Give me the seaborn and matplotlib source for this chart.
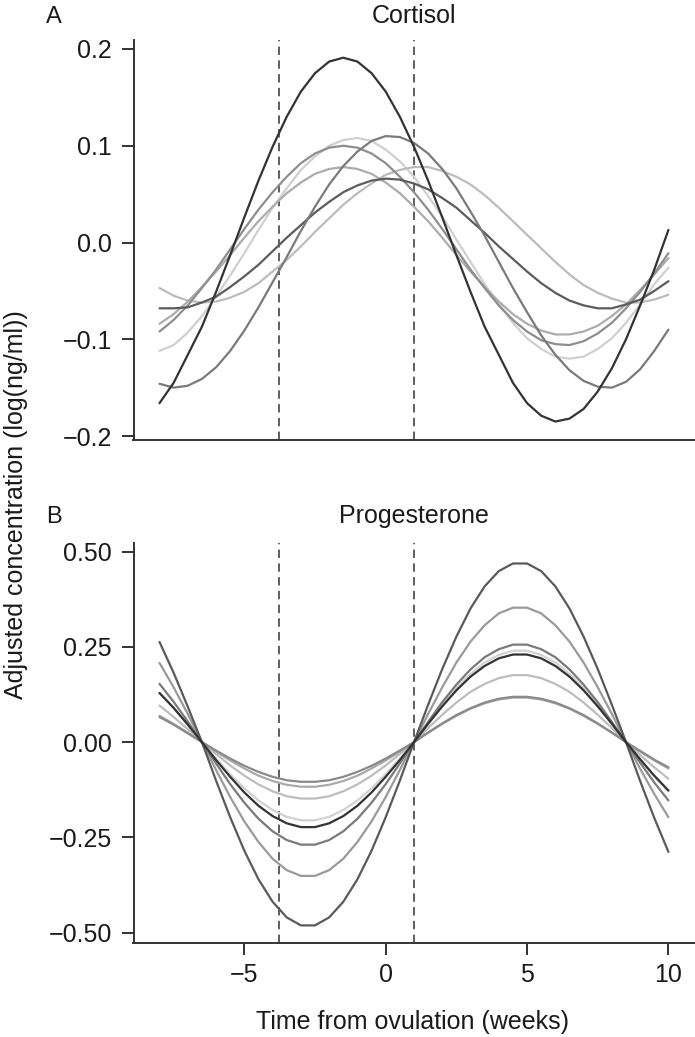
import numpy as np
import pandas as pd
import matplotlib
matplotlib.use("Agg")
import matplotlib.pyplot as plt
import seaborn as sns

sns.set_style("ticks")
plt.rcParams['font.family'] = ['Liberation Sans', 'DejaVu Sans']

# ---------------- data ----------------
weeks = [-8, -7.5, -7, -6.5, -6, -5.5, -5, -4.5, -4, -3.5, -3, -2.5, -2, -1.5, -1, -0.5,
         0, 0.5, 1, 1.5, 2, 2.5, 3, 3.5, 4, 4.5, 5, 5.5, 6, 6.5, 7, 7.5, 8, 8.5, 9, 9.5, 10]

# Cortisol curves (log(ng/ml))
cort_c1 = [-0.166, -0.145, -0.116, -0.087, -0.051, -0.013, 0.026, 0.064, 0.099, 0.130,
           0.156, 0.175, 0.187, 0.191, 0.187, 0.175, 0.156, 0.130, 0.099, 0.064,
           0.026, -0.013, -0.051, -0.087, -0.116, -0.145, -0.166, -0.179, -0.185, -0.182,
           -0.172, -0.154, -0.130, -0.100, -0.065, -0.028, 0.013]
cort_c2 = [-0.146, -0.150, -0.148, -0.141, -0.129, -0.112, -0.091, -0.067, -0.041, -0.015,
           0.012, 0.037, 0.060, 0.079, 0.094, 0.105, 0.110, 0.109, 0.103, 0.092,
           0.076, 0.056, 0.032, 0.007, -0.020, -0.047, -0.072, -0.096, -0.116, -0.132,
           -0.143, -0.149, -0.150, -0.144, -0.131, -0.112, -0.090]
cort_c3 = [-0.068, -0.068, -0.067, -0.062, -0.056, -0.046, -0.035, -0.023, -0.009, 0.005,
           0.018, 0.031, 0.042, 0.052, 0.059, 0.064, 0.066, 0.065, 0.061, 0.055,
           0.046, 0.036, 0.023, 0.010, -0.004, -0.017, -0.030, -0.042, -0.052, -0.060,
           -0.065, -0.068, -0.068, -0.064, -0.059, -0.050, -0.040]
cort_c4 = [-0.047, -0.055, -0.060, -0.062, -0.061, -0.057, -0.051, -0.042, -0.030, -0.018,
           -0.004, 0.011, 0.025, 0.039, 0.051, 0.061, 0.070, 0.075, 0.078, 0.078,
           0.074, 0.068, 0.060, 0.049, 0.036, 0.022, 0.008, -0.006, -0.020, -0.033,
           -0.044, -0.052, -0.058, -0.062, -0.062, -0.059, -0.054]
cort_c5 = [-0.112, -0.106, -0.093, -0.076, -0.056, -0.034, -0.011, 0.013, 0.036, 0.056,
           0.075, 0.089, 0.100, 0.106, 0.108, 0.105, 0.096, 0.084, 0.068, 0.048,
           0.027, 0.003, -0.020, -0.043, -0.064, -0.083, -0.099, -0.110, -0.118, -0.120,
           -0.118, -0.110, -0.099, -0.083, -0.064, -0.043, -0.026]
cort_c6 = [-0.092, -0.080, -0.065, -0.047, -0.028, -0.007, 0.014, 0.034, 0.052, 0.068,
           0.082, 0.092, 0.098, 0.100, 0.098, 0.092, 0.082, 0.068, 0.052, 0.034,
           0.014, -0.007, -0.028, -0.047, -0.065, -0.080, -0.092, -0.101, -0.105, -0.106,
           -0.102, -0.094, -0.083, -0.068, -0.051, -0.032, -0.011]
cort_c7 = [-0.084, -0.074, -0.061, -0.046, -0.030, -0.013, 0.005, 0.022, 0.037, 0.051,
           0.062, 0.071, 0.076, 0.078, 0.076, 0.071, 0.062, 0.051, 0.037, 0.022,
           0.005, -0.013, -0.030, -0.046, -0.061, -0.074, -0.084, -0.091, -0.095, -0.095,
           -0.092, -0.086, -0.076, -0.064, -0.049, -0.033, -0.016]

# Progesterone curves (log(ng/ml))
prog_p1 = [0.263, 0.182, 0.093, 0.000, -0.101, -0.197, -0.285, -0.360, -0.419, -0.460,
           -0.481, -0.481, -0.460, -0.419, -0.360, -0.285, -0.197, -0.101, 0.000, 0.098,
           0.192, 0.277, 0.351, 0.409, 0.449, 0.469, 0.469, 0.449, 0.409, 0.351,
           0.277, 0.192, 0.098, 0.000, -0.102, -0.199, -0.288]
prog_p2 = [0.208, 0.144, 0.074, 0.000, -0.073, -0.144, -0.208, -0.262, -0.306, -0.336,
           -0.351, -0.351, -0.336, -0.306, -0.262, -0.208, -0.144, -0.073, 0.000, 0.074,
           0.144, 0.209, 0.264, 0.307, 0.338, 0.353, 0.353, 0.338, 0.307, 0.264,
           0.209, 0.144, 0.074, 0.000, -0.070, -0.136, -0.197]
prog_p3 = [0.153, 0.106, 0.054, 0.000, -0.056, -0.110, -0.159, -0.201, -0.234, -0.257,
           -0.269, -0.269, -0.257, -0.234, -0.201, -0.159, -0.110, -0.056, 0.000, 0.053,
           0.105, 0.151, 0.191, 0.223, 0.244, 0.256, 0.256, 0.244, 0.223, 0.191,
           0.151, 0.105, 0.053, 0.000, -0.054, -0.106, -0.153]
prog_p4 = [0.129, 0.090, 0.046, 0.000, -0.047, -0.091, -0.132, -0.167, -0.194, -0.213,
           -0.223, -0.223, -0.213, -0.194, -0.167, -0.132, -0.091, -0.047, 0.000, 0.048,
           0.094, 0.136, 0.172, 0.200, 0.220, 0.230, 0.230, 0.220, 0.200, 0.172,
           0.136, 0.094, 0.048, 0.000, -0.045, -0.088, -0.127]
prog_p5 = [0.129, 0.090, 0.046, 0.000, -0.043, -0.084, -0.121, -0.153, -0.178, -0.196,
           -0.205, -0.205, -0.196, -0.178, -0.153, -0.121, -0.084, -0.043, 0.000, 0.050,
           0.098, 0.142, 0.179, 0.209, 0.229, 0.240, 0.240, 0.229, 0.209, 0.179,
           0.142, 0.098, 0.050, 0.000, -0.046, -0.090, -0.129]
prog_p6 = [0.096, 0.066, 0.034, 0.000, -0.031, -0.061, -0.088, -0.111, -0.129, -0.142,
           -0.148, -0.148, -0.142, -0.129, -0.111, -0.088, -0.061, -0.031, 0.000, 0.037,
           0.072, 0.104, 0.132, 0.153, 0.168, 0.176, 0.176, 0.168, 0.153, 0.132,
           0.104, 0.072, 0.037, 0.000, -0.034, -0.066, -0.096]
prog_p7 = [0.066, 0.046, 0.023, 0.000, -0.022, -0.043, -0.062, -0.078, -0.091, -0.100,
           -0.104, -0.104, -0.100, -0.091, -0.078, -0.062, -0.043, -0.022, 0.000, 0.025,
           0.049, 0.071, 0.089, 0.104, 0.114, 0.119, 0.119, 0.114, 0.104, 0.089,
           0.071, 0.049, 0.025, 0.000, -0.023, -0.046, -0.066]
prog_p8 = [0.069, 0.048, 0.025, 0.000, -0.025, -0.048, -0.069, -0.088, -0.102, -0.112,
           -0.117, -0.117, -0.112, -0.102, -0.088, -0.069, -0.048, -0.025, 0.000, 0.025,
           0.048, 0.069, 0.088, 0.102, 0.112, 0.117, 0.117, 0.112, 0.102, 0.088,
           0.069, 0.048, 0.025, 0.000, -0.025, -0.048, -0.069]

cort_names = ["c5", "c4", "c7", "c6", "c3", "c2", "c1"]
cort_series = [cort_c5, cort_c4, cort_c7, cort_c6, cort_c3, cort_c2, cort_c1]
cort_colors = ["#d0d0d0", "#bcbcbc", "#acacac", "#8e8e8e", "#5c5c5c", "#7a7a7a", "#333333"]

prog_names = ["p5", "p6", "p8", "p2", "p7", "p3", "p1", "p4"]
prog_series = [prog_p5, prog_p6, prog_p8, prog_p2, prog_p7, prog_p3, prog_p1, prog_p4]
prog_colors = ["#d2d2d2", "#bdbdbd", "#aaaaaa", "#9a9a9a", "#8a8a8a", "#7a7a7a", "#5a5a5a", "#333333"]

vlines = [-3.76, 1.0]

cort_ticks = [-0.2, -0.1, 0.0, 0.1, 0.2]
cort_ticklabels = ["\u22120.2", "\u22120.1", "0.0", "0.1", "0.2"]
prog_ticks = [-0.5, -0.25, 0.0, 0.25, 0.5]
prog_ticklabels = ["\u22120.50", "\u22120.25", "0.00", "0.25", "0.50"]
x_ticks = [-5, 0, 5, 10]
x_ticklabels = ["\u22125", "0", "5", "10"]


def long_df(names, series):
    rows = []
    for n, s in zip(names, series):
        assert len(s) == len(weeks), n
        for w, v in zip(weeks, s):
            rows.append((n, w, v))
    return pd.DataFrame(rows, columns=["curve", "week", "value"])


df_c = long_df(cort_names, cort_series)
df_p = long_df(prog_names, prog_series)

W, H = 695, 1037
fig = plt.figure(figsize=(W / 100, H / 100), dpi=100)

left = 133.5 / W
width = 1 - left
axA = fig.add_axes([left, 1 - 440 / H, width, 400 / H])
axB = fig.add_axes([left, 1 - 943.3 / H, width, 400 / H])

FS = 18
TXT = "#1a1a1a"
spine_lw = 1.4

for ax, df, names, cols in [(axA, df_c, cort_names, cort_colors),
                            (axB, df_p, prog_names, prog_colors)]:
    sns.lineplot(data=df, x="week", y="value", hue="curve", hue_order=names,
                 palette=dict(zip(names, cols)), estimator=None, sort=True,
                 legend=False, linewidth=1.6, ax=ax)
    for line in ax.get_lines():
        line.set_solid_joinstyle("round")
    for xv in vlines:
        ax.axvline(xv, color="#333333", lw=1.1, linestyle=(0, (5.5, 3.5)), zorder=0)
    ax.set_xlim(-8.92, 10.94)
    for s in ["top", "right"]:
        ax.spines[s].set_visible(False)
    for s in ["left", "bottom"]:
        ax.spines[s].set_linewidth(spine_lw)
        ax.spines[s].set_color("#333333")
    ax.tick_params(axis="both", labelsize=FS, length=8.5, width=spine_lw, pad=7,
                   color="#333333", labelcolor=TXT)
    ax.set_xlabel("")
    ax.set_ylabel("")

axA.set_ylim(-0.2041, 0.2093)
axA.set_yticks(cort_ticks)
axA.set_yticklabels(cort_ticklabels)
axA.set_xticks([])

axB.set_ylim(-0.528, 0.522)
axB.set_yticks(prog_ticks)
axB.set_yticklabels(prog_ticklabels)
axB.set_xticks(x_ticks)
axB.set_xticklabels(x_ticklabels)
axB.tick_params(axis="x", pad=6)

fig.text(54 / W, 1 - 23 / H, "A", fontsize=17, ha="center", va="baseline", color=TXT)
fig.text(54 / W, 1 - 523 / H, "B", fontsize=17, ha="center", va="baseline", color=TXT)
fig.text(414 / W, 1 - 23 / H, "Cortisol", fontsize=FS, ha="center", va="baseline", color=TXT)
fig.text(414 / W, 1 - 523 / H, "Progesterone", fontsize=FS, ha="center", va="baseline", color=TXT)
fig.text(413 / W, 1 - 1029 / H, "Time from ovulation (weeks)", fontsize=FS,
         ha="center", va="baseline", color=TXT)
fig.text(16 / W, 1 - 505 / H, "Adjusted concentration (log(ng/ml))", fontsize=FS,
         ha="center", va="center", rotation=90, color=TXT)

fig.savefig("out.png", dpi=100)
